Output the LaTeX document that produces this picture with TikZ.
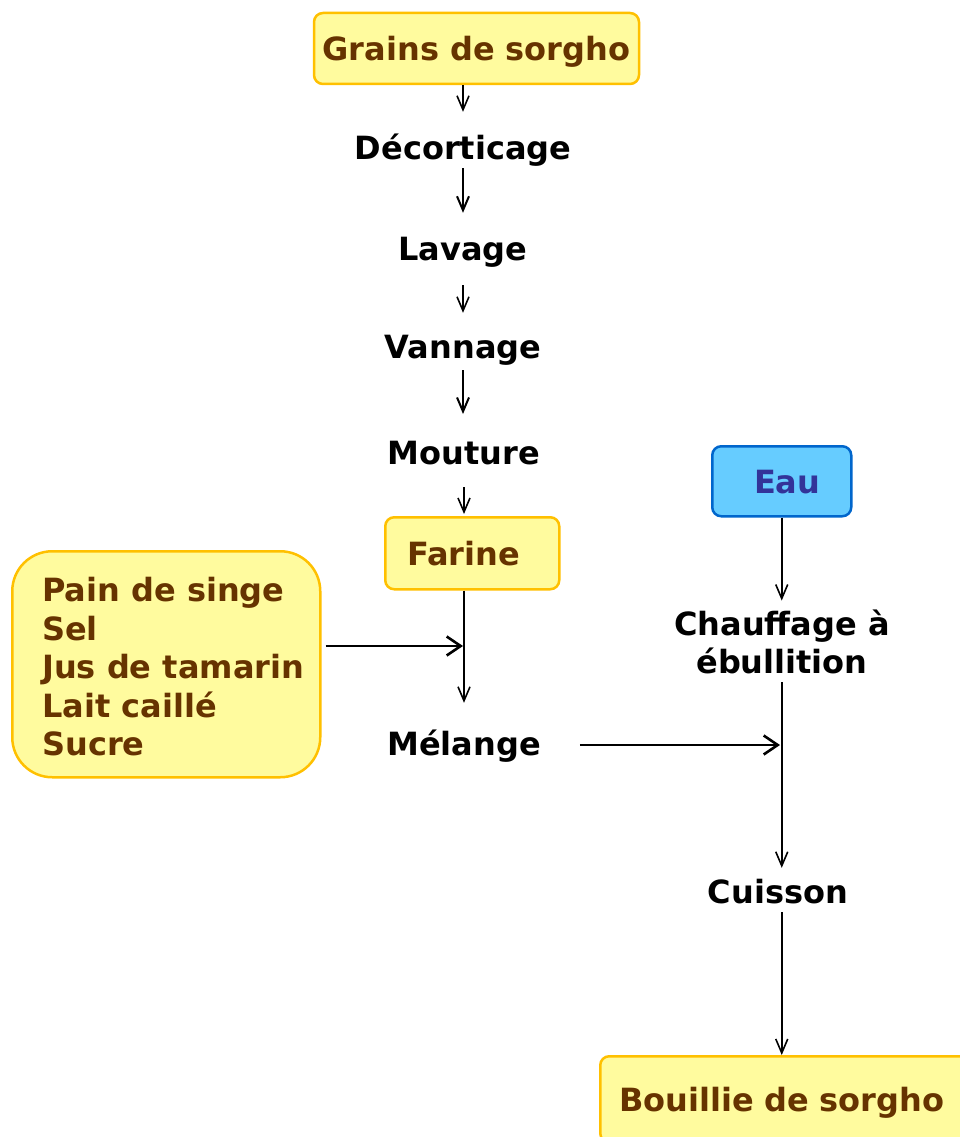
\documentclass[tikz,border=0pt]{standalone}
\usepackage{fontspec}
\setmainfont{DejaVu Sans}
\usetikzlibrary{arrows.meta}
\definecolor{boxfill}{HTML}{FFFB9E}
\definecolor{boxline}{HTML}{FFC000}
\definecolor{boxtext}{HTML}{663300}
\definecolor{waterfill}{HTML}{66CCFF}
\definecolor{waterline}{HTML}{0066CC}
\definecolor{watertext}{HTML}{333399}
\begin{document}
\begin{tikzpicture}[x=1pt,y=-1pt,
  bigfont/.style={font=\fontsize{32}{38.5}\selectfont\bfseries, inner sep=0pt},
  txt/.style={bigfont, text height=28pt, text depth=3pt},
  stepname/.style={txt, text=black},
  ingbox/.style={txt, draw=boxline, fill=boxfill, line width=2.5pt, text=boxtext, rounded corners=9pt},
  waterbox/.style={txt, draw=waterline, fill=waterfill, line width=2.5pt, text=watertext, rounded corners=9pt},
  arr/.style={-{Straight Barb[length=14pt,width=12pt,line width=1.6pt]}, line width=1.6pt},
  midarr/.style={-{Straight Barb[length=14pt,width=12pt,line width=2pt]}, line width=2.2pt},
  thickarr/.style={-{Straight Barb[length=14pt,width=19pt,line width=2.6pt]}, line width=2.8pt}]
\clip (0,0) rectangle (960,1137);
\fill[white] (0,0) rectangle (960,1137);

% main column
\node[ingbox, minimum width=325pt, minimum height=71pt] (grains) at (476.5,48.5) {Grains de sorgho};
\node[stepname] (decort) at (463,147) {Décorticage};
\node[stepname] (lavage) at (463,248) {Lavage};
\node[stepname] (vannage) at (463,346) {Vannage};
\node[stepname] (mouture) at (464,452) {Mouture};
\node[ingbox, anchor=north west, minimum height=72pt, inner xsep=22pt, text width=130pt, align=left] (farine) at (384,516) {Farine};
\node[stepname] (melange) at (464,743) {Mélange};

% ingredients added to the flour
\node[draw=boxline, fill=boxfill, line width=2.5pt, rounded corners=40pt, inner sep=0pt,
  anchor=north west, minimum width=308pt, minimum height=226pt] (ingr) at (11,550) {};
\node[bigfont, text=boxtext, align=left, anchor=west] (ingrtext) at (42,667)
  {Pain de singe\\Sel\\Jus de tamarin\\Lait caillé\\Sucre};

% water branch
\node[waterbox, anchor=north west, minimum height=70pt, inner xsep=31pt, text width=77pt, align=right] (eau) at (711,445) {Eau};
\node[bigfont, align=center] (chauff) at (782,642) {Chauffage à\\ébullition};
\node[stepname] (cuisson) at (778,891) {Cuisson};
\node[ingbox, anchor=north west, minimum height=86pt, minimum width=380pt, inner xsep=19pt, text width=342pt, align=left] (bouillie) at (599,1055) {Bouillie de sorgho};

% junctions on the vertical flow lines
\coordinate (j1) at (464,646);
\coordinate (j2) at (781,745);

% connectors of the main column
\draw[arr, shorten >=19.5pt] (decort |- grains.south) -- (decort);
\draw[midarr, shorten <=5.5pt, shorten >=19.5pt] (decort) -- (lavage);
\draw[arr, shorten <=21.5pt, shorten >=17.5pt] (lavage) -- (vannage);
\draw[midarr, shorten <=8.5pt, shorten >=38pt] (vannage) -- (vannage |- mouture);
\draw[arr, shorten <=19.5pt, shorten >=2pt] (mouture) -- (mouture |- farine.north);
\draw[arr, shorten >=24.5pt] (melange |- farine.south) -- (melange);
\draw[thickarr, shorten <=4pt, shorten >=1pt] (ingr.east |- j1) -- (j1);
\draw[thickarr, shorten <=39pt, shorten >=1pt] (melange.east |- j2) -- (j2);

% connectors of the water branch
\draw[arr, shorten >=9pt] (eau.south) -- (eau.south |- chauff.north);
\draw[arr, shorten <=8pt, shorten >=7.5pt] (eau.south |- chauff.south) -- (eau.south |- cuisson.north);
\draw[arr, shorten <=5.5pt] (eau.south |- cuisson.south) -- (eau.south |- bouillie.north);
\end{tikzpicture}
\end{document}
